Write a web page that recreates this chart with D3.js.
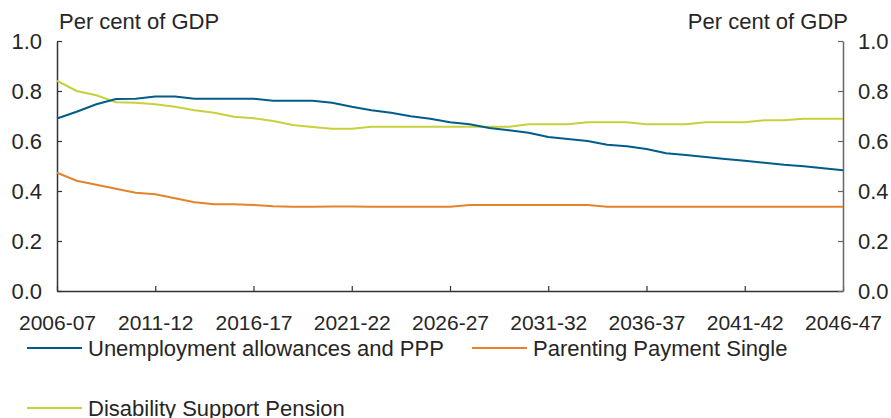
<!DOCTYPE html>
<meta charset="utf-8">
<style>
body { margin: 0; background: #fff; }
text { font-family: "Liberation Sans", Arial, sans-serif; fill: #262626; }
.line { fill: none; stroke-width: 2; }
</style>
<body>
<script src="https://cdnjs.cloudflare.com/ajax/libs/d3/7.8.5/d3.min.js"></script>
<script>

var W = 891, H = 418;
var margin = {top: 41, right: 48, bottom: 127, left: 57}
  , width = W - margin.left - margin.right
  , height = H - margin.top - margin.bottom;

// financial years 2006-07 .. 2046-47
var years = d3.range(2006, 2047).map(function(y) { return y + "-" + String(y + 1).slice(2); });
var tickYears = ["2006-07", "2011-12", "2016-17", "2021-22", "2026-27", "2031-32", "2036-37", "2041-42", "2046-47"];
var yTicks = [0, 0.2, 0.4, 0.6, 0.8, 1.0];

var unemployment = [0.69, 0.717, 0.747, 0.768, 0.769, 0.778, 0.778, 0.769, 0.769, 0.769,
  0.769, 0.761, 0.761, 0.761, 0.753, 0.737, 0.723, 0.713, 0.699, 0.689,
  0.675, 0.667, 0.652, 0.643, 0.633, 0.616, 0.608, 0.600, 0.585, 0.579,
  0.568, 0.551, 0.544, 0.536, 0.528, 0.521, 0.513, 0.505, 0.499, 0.491, 0.483];
var parenting = [0.473, 0.441, 0.425, 0.409, 0.393, 0.387, 0.371, 0.355, 0.347, 0.347,
  0.344, 0.339, 0.337, 0.337, 0.338, 0.338, 0.337, 0.337, 0.337, 0.337,
  0.337, 0.344, 0.344, 0.344, 0.344, 0.344, 0.344, 0.344, 0.337, 0.337,
  0.337, 0.337, 0.337, 0.337, 0.337, 0.337, 0.337, 0.337, 0.337, 0.337, 0.337];
var disability = [0.841, 0.80, 0.783, 0.755, 0.753, 0.747, 0.737, 0.723, 0.713, 0.697,
  0.691, 0.680, 0.664, 0.656, 0.649, 0.649, 0.657, 0.657, 0.657, 0.657,
  0.657, 0.657, 0.657, 0.657, 0.667, 0.667, 0.667, 0.675, 0.675, 0.675,
  0.667, 0.667, 0.667, 0.675, 0.675, 0.675, 0.683, 0.683, 0.689, 0.689, 0.689];

var series = [
  {name: "Unemployment allowances and PPP", values: unemployment, color: "#005d89"},
  {name: "Parenting Payment Single", values: parenting, color: "#e5832d"},
  {name: "Disability Support Pension", values: disability, color: "#c6d13c"}
];

var svg = d3.select("body").append("svg")
  .attr("width", W)
  .attr("height", H);

var g = svg.append("g")
  .attr("transform", "translate(" + margin.left + "," + margin.top + ")");

var x = d3.scalePoint().domain(years).range([0, width]);
var y = d3.scaleLinear().domain([0, 1]).range([height, 0]);

var fmt = d3.format(".1f");

// axes
var xAxis = g.append("g")
  .attr("transform", "translate(0," + height + ")")
  .call(d3.axisBottom(x).tickValues(tickYears).tickSizeInner(-5).tickSizeOuter(0).tickPadding(24));

var yLeft = g.append("g")
  .call(d3.axisLeft(y).tickValues(yTicks).tickFormat(fmt).tickSizeInner(-5).tickSizeOuter(0).tickPadding(15));

var yRight = g.append("g")
  .attr("transform", "translate(" + width + ",0)")
  .call(d3.axisRight(y).tickValues(yTicks).tickFormat(fmt).tickSizeInner(-5).tickSizeOuter(0).tickPadding(15));

[xAxis, yLeft].forEach(function(a) {
  a.select(".domain").attr("stroke", "#333").attr("stroke-width", 1.5);
  a.selectAll(".tick line").attr("stroke", "#333").attr("stroke-width", 1.2);
});
yRight.select(".domain").attr("stroke", "#666").attr("stroke-width", 1.5);
yRight.selectAll(".tick line").attr("stroke", "#666").attr("stroke-width", 1.2);

g.selectAll(".tick text")
  .style("font-size", "21px")
  .attr("fill", "#262626")
  .style("font-family", '"Liberation Sans", Arial, sans-serif');
yLeft.selectAll(".tick text").style("font-size", "22px");
yRight.selectAll(".tick text").style("font-size", "22px");

// unit labels
g.append("text")
  .attr("x", 2).attr("y", -12)
  .style("font-size", "22px")
  .text("Per cent of GDP");
g.append("text")
  .attr("x", width + 5).attr("y", -12)
  .attr("text-anchor", "end")
  .style("font-size", "22px")
  .text("Per cent of GDP");

// lines
var line = d3.line()
  .x(function(d, i) { return x(years[i]); })
  .y(function(d) { return y(d); });

g.selectAll(".line")
  .data(series.slice().reverse())
  .enter().append("path")
  .attr("class", "line")
  .attr("stroke", function(d) { return d.color; })
  .attr("d", function(d) { return line(d.values); });

// legend
var legendPos = [[27, 348], [472, 348], [27, 408]];
var legend = svg.selectAll(".legend")
  .data(series)
  .enter().append("g")
  .attr("class", "legend")
  .attr("transform", function(d, i) { return "translate(" + legendPos[i][0] + "," + legendPos[i][1] + ")"; });

legend.append("line")
  .attr("x1", 0).attr("x2", 55)
  .attr("stroke", function(d) { return d.color; })
  .attr("stroke-width", 2);

legend.append("text")
  .attr("x", 61).attr("dy", "0.35em")
  .style("font-size", "22px")
  .text(function(d) { return d.name; });

</script>
